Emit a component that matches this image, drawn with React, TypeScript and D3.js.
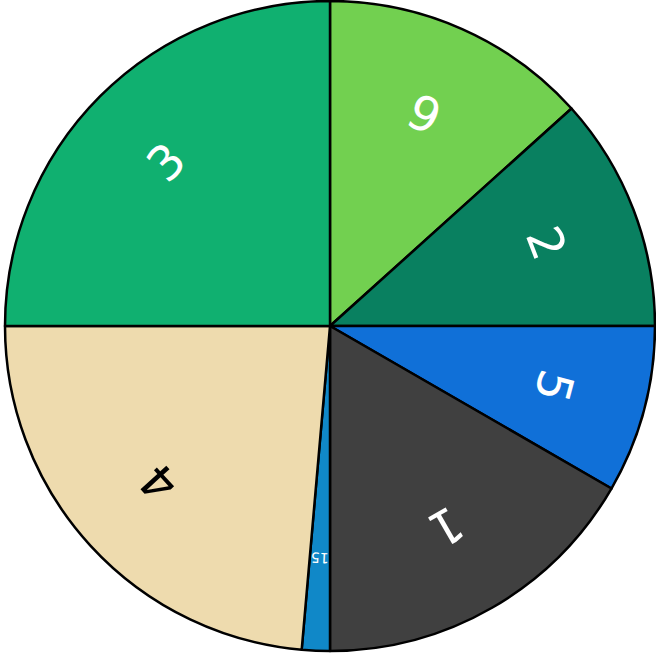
import React, { useEffect, useRef } from 'react';
import * as d3 from 'd3';

// slices, clockwise from 12 o'clock
const labels = ['9', '2', '5', '1', '15', '4', '3'];
const values = [48, 42, 30, 60, 5, 85, 90];
const colors = ['#72d050', '#098060', '#1070d8', '#404040', '#1088c8', '#eedbae', '#10b070'];
const textColors = ['#ffffff', '#ffffff', '#ffffff', '#ffffff', '#ffffff', '#000000', '#ffffff'];

const App = () => {
  const svgRef = useRef<SVGSVGElement>(null);

  useEffect(() => {
    const svg = d3.select(svgRef.current);
    svg.selectAll('*').remove();

    const width = 656, height = 656;
    const cx = 330, cy = 326, radius = 325;
    const labelRadius = 232;

    const data = labels.map((l, i) => ({ label: l, value: values[i], i }));

    const pie = d3.pie<any>()
      .sort(null)
      .value((d) => d.value);

    const arc = d3.arc<any>()
      .innerRadius(0)
      .outerRadius(radius);

    const labelArc = d3.arc<any>()
      .innerRadius(labelRadius)
      .outerRadius(labelRadius);

    const g = svg
      .attr('width', width)
      .attr('height', height)
      .append('g')
      .attr('transform', `translate(${cx},${cy})`);

    const arcs = pie(data);

    g.selectAll('path')
      .data(arcs)
      .enter()
      .append('path')
      .attr('d', arc)
      .attr('fill', (d) => colors[d.data.i])
      .attr('stroke', '#000')
      .attr('stroke-width', 2.5)
      .attr('stroke-linejoin', 'round');

    g.selectAll('text')
      .data(arcs)
      .enter()
      .append('text')
      .attr('transform', (d) => {
        const [x, y] = labelArc.centroid(d);
        const mid = ((d.startAngle + d.endAngle) / 2) * 180 / Math.PI;
        return `translate(${x},${y}) rotate(${mid})`;
      })
      .attr('text-anchor', 'middle')
      .attr('dominant-baseline', 'central')
      .attr('font-family', 'DejaVu Sans, sans-serif')
      .attr('font-size', (d) => {
        // shrink text to fit thin slices
        const arcLen = (d.endAngle - d.startAngle) * labelRadius;
        return Math.min(48, arcLen * 0.7);
      })
      .attr('fill', (d) => textColors[d.data.i])
      .text((d) => d.data.label);
  }, []);

  return (
    <svg ref={svgRef} style={{ position: 'absolute', left: 0, top: 0 }}></svg>
  );
};

export default App;
